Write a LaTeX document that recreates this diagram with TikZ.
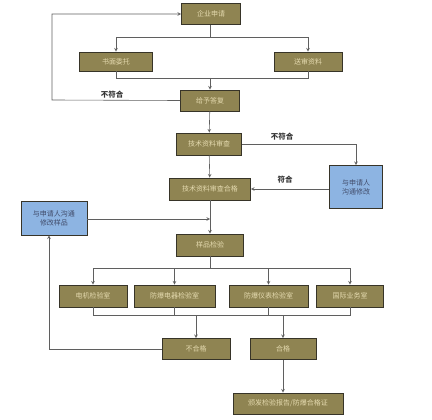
\documentclass[tikz,border=0pt]{standalone}
\usepackage{fontspec}
\setmainfont{Noto Sans CJK SC}
\usetikzlibrary{positioning}
\definecolor{olivebox}{RGB}{143,132,82}
\definecolor{olivetext}{RGB}{228,218,175}
\definecolor{bluebox}{RGB}{141,180,226}
\definecolor{bluetext}{RGB}{65,75,105}
\definecolor{edge}{RGB}{55,52,40}
\definecolor{wire}{RGB}{95,95,95}
\begin{document}
\begin{tikzpicture}[x=1pt, y=-1pt,
        box/.style={draw=edge, line width=0.9pt, fill=olivebox, text=olivetext, minimum height=21pt, inner sep=1pt, font=\fontsize{7}{9}\selectfont, align=center},
        bluebox/.style={box, fill=bluebox, text=bluetext},
        arr/.style={->, >=stealth, draw=wire, line width=0.6pt},
        lin/.style={draw=wire, line width=0.6pt},
        lbl/.style={font=\bfseries\fontsize{7.5}{9}\selectfont, text=black!80}]

        \useasboundingbox (0,0) rectangle (432,420);

        \node[box, minimum width=59pt]  (apply)   at (211, 14)    {企业申请};
        \node[box, minimum width=73pt, minimum height=19pt] (entrust) at (116, 61.5) {书面委托};
        \node[box, minimum width=68pt, minimum height=19pt] (submit)  at (308, 61.5) {送审资料};
        \node[box, minimum width=59pt]  (reply)   at (210, 100.5) {给予答复};
        \node[box, minimum width=65pt, minimum height=22pt] (review)  at (209, 144)  {技术资料审查};
        \node[bluebox, minimum width=53pt, minimum height=43pt] (revise) at (356, 187) {与申请人\\沟通修改};
        \node[box, minimum width=81pt, minimum height=22pt] (pass)    at (210, 189)  {技术资料审查合格};
        \node[bluebox, minimum width=66pt, minimum height=34pt] (sample) at (54, 218) {与申请人沟通\\修改样品};
        \node[box, minimum width=67pt, minimum height=22pt] (test)    at (210, 245)  {样品检验};

        \node[box, minimum width=68pt, minimum height=22pt] (lab1) at (93, 296)    {电机检验室};
        \node[box, minimum width=81pt, minimum height=22pt] (lab2) at (174.5, 296) {防爆电器检验室};
        \node[box, minimum width=79pt, minimum height=22pt] (lab3) at (268.5, 296) {防爆仪表检验室};
        \node[box, minimum width=67pt, minimum height=22pt] (lab4) at (350, 296)   {国际业务室};

        \node[box, minimum width=68pt] (fail) at (196, 349)   {不合格};
        \node[box, minimum width=66pt] (ok)   at (283, 349)   {合格};
        \node[box, minimum width=110pt] (cert) at (288, 403.5) {颁发检验报告/防爆合格证};

        \coordinate (split1) at (210, 37);
        \coordinate (merge1) at (210, 78);
        \coordinate (back1)  at (52, 100);
        \coordinate (join)   at (210, 219);
        \coordinate (split2) at (210, 268);
        \coordinate (merge2) at (0, 315);
        \coordinate (back2)  at (49, 349);

        % application branches
        \draw[lin] (apply.south -| split1) -- (split1);
        \draw[arr] (split1) -| (entrust);
        \draw[arr] (split1) -| (submit);
        \draw[lin] (entrust) |- (merge1);
        \draw[lin] (submit)  |- (merge1);
        \draw[arr] (merge1) -- (reply);
        \draw[arr] (reply.west) -- (back1) |- (apply.west);
        \node[lbl] (nofit1) at (112, 95) {不符合};

        % document review
        \draw[arr] (reply) -- (review);
        \draw[arr] (review.east) -| (revise.north);
        \node[lbl] (nofit2) at (282, 137) {不符合};
        \draw[arr] (revise.west |- pass.east) -- (pass.east);
        \node[lbl] (fit) at (285, 180) {符合};
        \draw[arr] (review) -- (pass);
        \draw[arr] (pass) -- (test);
        \draw[arr] (sample.east |- join) -- (join);

        % laboratories
        \draw[lin] (test) -- (split2);
        \draw[arr] (split2) -| (lab1);
        \draw[arr] (split2) -| (lab2);
        \draw[arr] (split2) -| (lab3);
        \draw[arr] (split2) -| (lab4);
        \draw[lin] (lab1) |- (lab4.south |- merge2) -- (lab4);
        \draw[lin] (lab2) -- (lab2.south |- merge2);
        \draw[lin] (lab3) -- (lab3.south |- merge2);
        \draw[arr] (fail.north |- merge2) -- (fail);
        \draw[arr] (ok.north |- merge2) -- (ok);

        % results
        \draw[arr] (fail.west) -- (back2) -- (back2 |- sample.south);
        \draw[arr] (ok) -- (ok |- cert.north);

    \end{tikzpicture}
\end{document}
